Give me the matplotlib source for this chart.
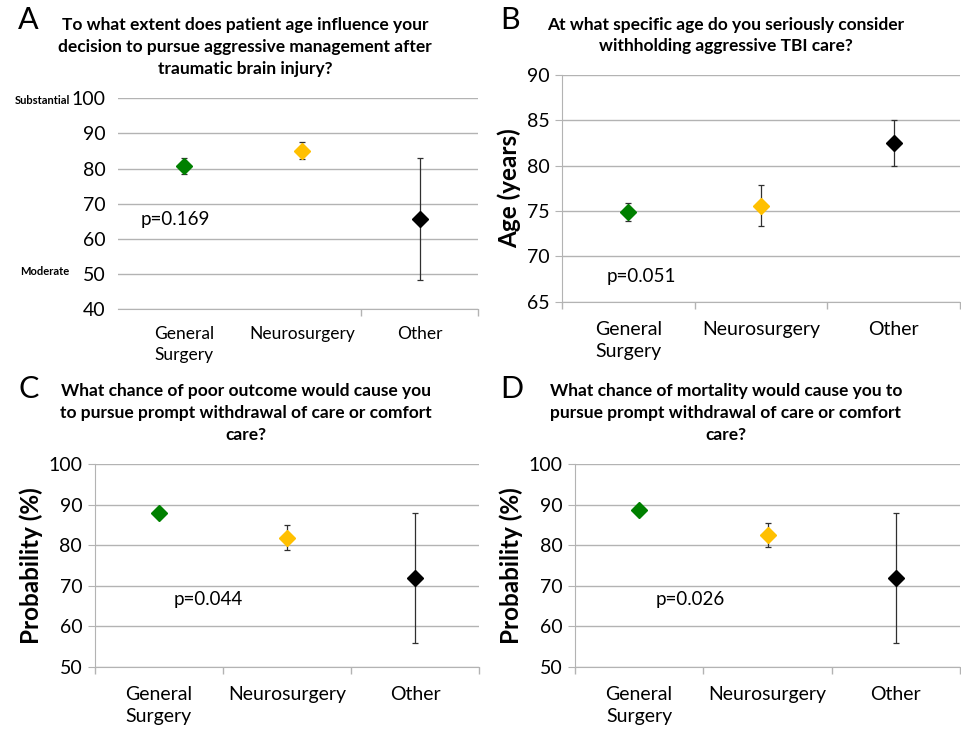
import numpy as np
import matplotlib.pyplot as plt
from matplotlib.ticker import FixedLocator

plt.rcParams['font.family'] = ['Lato', 'DejaVu Sans']

groups = ["General\nSurgery", "Neurosurgery", "Other"]
colors = ['#008000', '#FFC000', '#000000']

a_mean = [80.8, 85.1, 65.7]
a_err = [2.3, 2.4, 17.3]
b_mean = [74.9, 75.6, 82.5]
b_err = [1.0, 2.3, 2.5]
c_mean = [87.9, 81.9, 71.9]
c_err = [0.5, 3.1, 16.1]
d_mean = [88.7, 82.6, 71.9]
d_err = [0.5, 3.0, 16.1]

W, H = 961, 734
grid_c = '#b3b3b3'

fig = plt.figure(figsize=(W / 100, H / 100), dpi=100)


def px_axes(x0, y0, x1, y1):
    # pixel box (top-left origin) -> figure axes
    return fig.add_axes([x0 / W, 1 - y1 / H, (x1 - x0) / W, (y1 - y0) / H])


def panel(ax, means, errs, ylim, yticks, xlim, bounds, left_spine=True,
          xfs=14, xpad=14):
    x = np.arange(len(groups))
    for i in x:
        ax.errorbar(i, means[i], yerr=errs[i], fmt='D', color=colors[i],
                    ms=8, mec=colors[i], ecolor='#303030', elinewidth=0.9,
                    capsize=2.5, capthick=0.9, zorder=3)
    ax.set_ylim(*ylim)
    ax.set_xlim(*xlim)
    ax.set_yticks(yticks)
    ax.yaxis.grid(True, color=grid_c, lw=1)
    ax.set_axisbelow(True)
    ax.set_xticks(x)
    ax.set_xticklabels(groups, fontsize=xfs, linespacing=1.35)
    ax.xaxis.set_minor_locator(FixedLocator(bounds))
    ax.tick_params(axis='x', which='major', length=0, pad=xpad)
    ax.tick_params(axis='x', which='minor', length=5, color=grid_c, width=1)
    ax.tick_params(axis='y', length=5 if left_spine else 0, color=grid_c,
                   labelsize=14, pad=4 if left_spine else 9)
    for s in ['top', 'right']:
        ax.spines[s].set_visible(False)
    ax.spines['bottom'].set_color(grid_c)
    ax.spines['left'].set_color(grid_c)
    ax.spines['left'].set_visible(left_spine)


# A
axA = px_axes(118, 98.3, 478, 309.3)
panel(axA, a_mean, a_err, (40, 100), range(40, 101, 10), (-0.56, 2.49),
      [1.5, 2.49], left_spine=False, xfs=12.5, xpad=12)
axA.text(-0.37, 65.4, 'p=0.169', fontsize=13.5, va='center')
fig.text(70 / W, 1 - 101 / H, 'Substantial', fontsize=8, fontweight='bold',
         ha='right', va='center')
fig.text(69 / W, 1 - 272 / H, 'Moderate', fontsize=8, fontweight='bold',
         ha='right', va='center')

# B
axB = px_axes(562, 75, 960, 301.7)
panel(axB, b_mean, b_err, (65, 90), range(65, 91, 5), (-0.5, 2.5),
      [-0.5, 0.5, 1.5, 2.5])
axB.set_ylabel('Age (years)', fontsize=17.5, fontweight='bold', labelpad=4)
axB.text(-0.16, 67.8, 'p=0.051', fontsize=13.5, va='center')

# C
axC = px_axes(94.7, 464.3, 479, 666.7)
panel(axC, c_mean, c_err, (50, 100), range(50, 101, 10), (-0.5, 2.5),
      [-0.5, 0.5, 1.5, 2.5])
axC.set_ylabel('Probability (%)', fontsize=17.5, fontweight='bold', labelpad=4)
axC.text(0.12, 66.7, 'p=0.044', fontsize=13.5, va='center')

# D
axD = px_axes(575, 464.3, 960, 666.7)
panel(axD, d_mean, d_err, (50, 100), range(50, 101, 10), (-0.5, 2.5),
      [-0.5, 0.5, 1.5, 2.5])
axD.set_ylabel('Probability (%)', fontsize=17.5, fontweight='bold', labelpad=4)
axD.text(0.13, 66.7, 'p=0.026', fontsize=13.5, va='center')

titles = [
    (245, 47, 'To what extent does patient age influence your\n'
              'decision to pursue aggressive management after\n'
              'traumatic brain injury?'),
    (726, 35.5, 'At what specific age do you seriously consider\n'
                'withholding aggressive TBI care?'),
    (246, 413, 'What chance of poor outcome would cause you\n'
               'to pursue prompt withdrawal of care or comfort\n'
               'care?'),
    (726, 413, 'What chance of mortality would cause you to\n'
               'pursue prompt withdrawal of care or comfort\n'
               'care?'),
]
for cx, cy, t in titles:
    fig.text(cx / W, 1 - cy / H, t, fontsize=12.5, fontweight='bold',
             ha='center', va='center', linespacing=1.45)

for lx, ly, letter in [(18, 20, 'A'), (500, 20, 'B'), (18, 389, 'C'), (500, 389, 'D')]:
    fig.text(lx / W, 1 - ly / H, letter, fontsize=22, ha='left', va='center')

fig.savefig('out.png', dpi=100)
